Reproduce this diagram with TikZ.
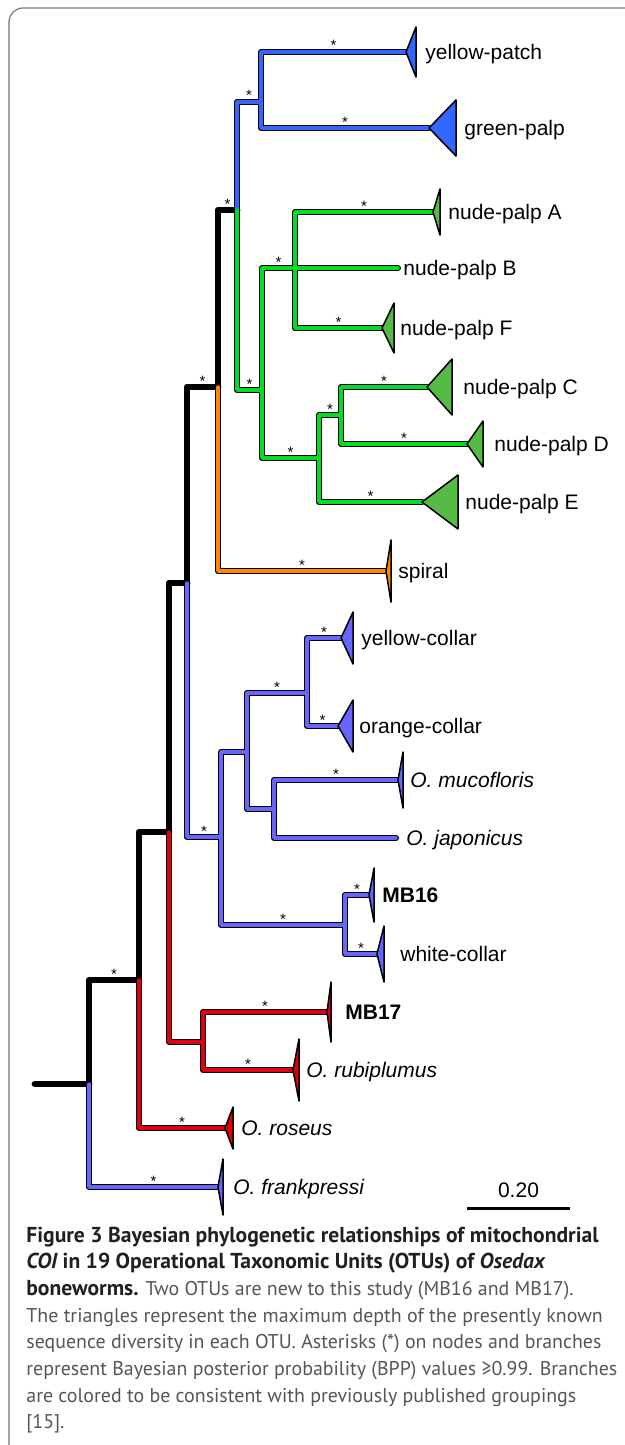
\documentclass[tikz,border=0pt]{standalone}
\usepackage{fontspec}
\setmainfont{Liberation Sans}
\newfontfamily\capfont{PT Sans}
\usetikzlibrary{calc}

\definecolor{cladeBlue}{HTML}{3366FF}
\definecolor{cladeGreen}{HTML}{00DD22}
\definecolor{tipGreen}{HTML}{55BB44}
\definecolor{cladeOrange}{HTML}{FF8800}
\definecolor{cladeViolet}{HTML}{6666FF}
\definecolor{cladeRed}{HTML}{DD0011}
\definecolor{frameGray}{HTML}{777777}
\definecolor{capGray}{HTML}{555555}
\definecolor{capBlack}{HTML}{231F20}

\newcommand{\capbold}{\color{capBlack}\fontsize{10.8}{13}\selectfont\bfseries}

\begin{document}
\begin{tikzpicture}[x=0.5pt,y=-0.5pt,
  stem/.style={line width=3.4pt,line cap=round,line join=round},
  rim/.style={line width=3pt,line cap=round,line join=round},
  core/.style={line width=1.75pt,line cap=round,line join=round},
  tipshape/.style={draw=black,line width=0.75pt,line join=round},
  lab/.style={font=\fontsize{10.5}{12}\selectfont,inner sep=0pt,anchor=base west},
  bpp/.style={font=\fontsize{7.5}{8}\selectfont,inner sep=0pt,anchor=base,yshift=0.5pt},
  captext/.style={font=\capfont\fontsize{9.95}{13}\selectfont,inner sep=0pt,anchor=base west,text=capGray}]
\useasboundingbox (0,0) rectangle (625,1445);
\clip (0,0) rectangle (625,1445);
\draw[frameGray,line width=0.6pt,rounded corners=7pt] (9,8) rectangle (660,1480);
% Nodes interns de l'arbre
\coordinate (root0) at (35,1084);
\coordinate (R) at (89,1084);
\coordinate (A) at (139,980);
\coordinate (B) at (169,832);
\coordinate (C) at (187,583);
\coordinate (E) at (218,387);
\coordinate (G) at (237,210);
\coordinate (H) at (261,102);
\coordinate (I) at (262,390);
\coordinate (J) at (295,268);
\coordinate (K) at (319,458);
\coordinate (L) at (341,415);
\coordinate (F) at (221,837);
\coordinate (M) at (247,752);
\coordinate (P) at (307,693);
\coordinate (Q) at (274,809);
\coordinate (N) at (345,925);
\coordinate (D) at (203,1042);
% Fulles (OTUs)
\coordinate (yp) at (406,52);
\coordinate (gp) at (429,128);
\coordinate (npA) at (433,212);
\coordinate (npB) at (398,268);
\coordinate (npF) at (382,328);
\coordinate (npC) at (427,387);
\coordinate (npD) at (467,444);
\coordinate (npE) at (422,502);
\coordinate (spi) at (386,571);
\coordinate (ycol) at (341,638);
\coordinate (ocol) at (338,726);
\coordinate (muc) at (398,780);
\coordinate (jap) at (396,838);
\coordinate (mb16) at (369,895);
\coordinate (wcol) at (377,954);
\coordinate (mb17) at (327,1012);
\coordinate (rub) at (293,1070);
\coordinate (ros) at (225,1128);
\coordinate (fra) at (218,1187);
% Contorn negre de les branques
\foreach \p/\c in {R/fra,A/ros,B/D,C/F,E/spi,G/H,G/I,H/yp,H/gp,I/J,I/K,J/npA,J/npB,J/npF,K/L,K/npE,L/npC,L/npD,F/M,F/N,M/P,M/Q,P/ycol,P/ocol,Q/muc,Q/jap,N/mb16,N/wcol,D/mb17,D/rub}
  \draw[rim] (\p) |- (\c);
% Tronc negre
\draw[stem] (root0) -- (R);
\foreach \p/\c/\s in {R/A/*,A/B/,B/C/,C/E/*,E/G/*}
  \draw[stem] (\p) |- (\c) node[bpp,pos=0.75] (s\c) {\s};
% Branques acolorides
\foreach \p/\c/\col/\s in {R/fra/cladeViolet/*,A/ros/cladeRed/*,B/D/cladeRed/,C/F/cladeViolet/*,
    E/spi/cladeOrange/*,G/H/cladeBlue/*,G/I/cladeGreen/*,H/yp/cladeBlue/*,H/gp/cladeBlue/*,
    I/J/cladeGreen/*,I/K/cladeGreen/*,J/npA/cladeGreen/*,J/npB/cladeGreen/,J/npF/cladeGreen/*,
    K/L/cladeGreen/*,K/npE/cladeGreen/*,L/npC/cladeGreen/*,L/npD/cladeGreen/*,
    F/M/cladeViolet/,F/N/cladeViolet/*,M/P/cladeViolet/*,M/Q/cladeViolet/,
    P/ycol/cladeViolet/*,P/ocol/cladeViolet/*,Q/muc/cladeViolet/*,Q/jap/cladeViolet/,
    N/mb16/cladeViolet/*,N/wcol/cladeViolet/*,D/mb17/cladeRed/*,D/rub/cladeRed/*}
  \draw[core,\col] (\p) |- (\c) node[bpp,pos=0.75,text=black] (s\c) {\s};
% Triangles de diversitat
\foreach \n/\d/\h/\col in {yp/10/25/cladeBlue,gp/27/28/cladeBlue,npA/7/23/tipGreen,npF/12/25/tipGreen,
    npC/25/28/tipGreen,npD/16/23/tipGreen,npE/36/27/tipGreen,spi/5/31/cladeOrange,
    ycol/12/26/cladeViolet,ocol/15/26/cladeViolet,muc/5/28/cladeViolet,mb16/5/27/cladeViolet,
    wcol/7/28/cladeViolet,mb17/4/30/cladeRed,rub/6/31/cladeRed,ros/8/21/cladeRed,fra/5/28/cladeViolet}
  \filldraw[tipshape,fill=\col] (\n) -- ++(\d,-\h) -- ++(0,2*\h) -- cycle;
% Etiquetes
\foreach \n/\dx/\t in {yp/19/yellow-patch,gp/35/green-palp,npA/15/nude-palp A,npB/5/nude-palp B,
    npF/18/nude-palp F,npC/36/nude-palp C,npD/27/nude-palp D,npE/43/nude-palp E,spi/12/spiral,
    ycol/20/yellow-collar,ocol/21/orange-collar,muc/12/\textit{O. mucofloris},
    jap/10/\textit{O. japonicus},mb16/13/\textbf{MB16},wcol/23/white-collar,mb17/18/\textbf{MB17},
    rub/13/\textit{O. rubiplumus},ros/16/\textit{O. roseus},fra/15/\textit{O. frankpressi}}
  \node[lab] (\n-l) at ($(\n)+(\dx,7.5)$) {\t};
% Escala
\coordinate (sbL) at (467,1208);
\coordinate (sbR) at (570,1208);
\draw[line width=1.5pt] (sbL) -- (sbR);
\node[lab,anchor=base] (sbT) at ($(sbL)!0.5!(sbR)+(0,-11)$) {0.20};
% Peu de figura
\node[captext] (cap1) at (26,1242) {\capbold Figure 3 Bayesian phylogenetic relationships of mitochondrial};
\node[captext] (cap2) at (26,1268.7) {\capbold\itshape COI\upshape{} in 19 Operational Taxonomic Units (OTUs) of \itshape Osedax};
\node[captext] (cap3) at (26,1295.4) {{\capbold boneworms.} Two OTUs are new to this study (MB16 and MB17).};
\node[captext] (cap4) at (26,1322.1) {The triangles represent the maximum depth of the presently known};
\node[captext] (cap5) at (26,1348.8) {sequence diversity in each OTU. Asterisks (*) on nodes and branches};
\node[captext] (cap6) at (26,1375.5) {represent Bayesian posterior probability (BPP) values ≥0.99. Branches};
\node[captext] (cap7) at (26,1402.2) {are colored to be consistent with previously published groupings};
\node[captext] (cap8) at (26,1428.9) {[15].};
\end{tikzpicture}
\end{document}
